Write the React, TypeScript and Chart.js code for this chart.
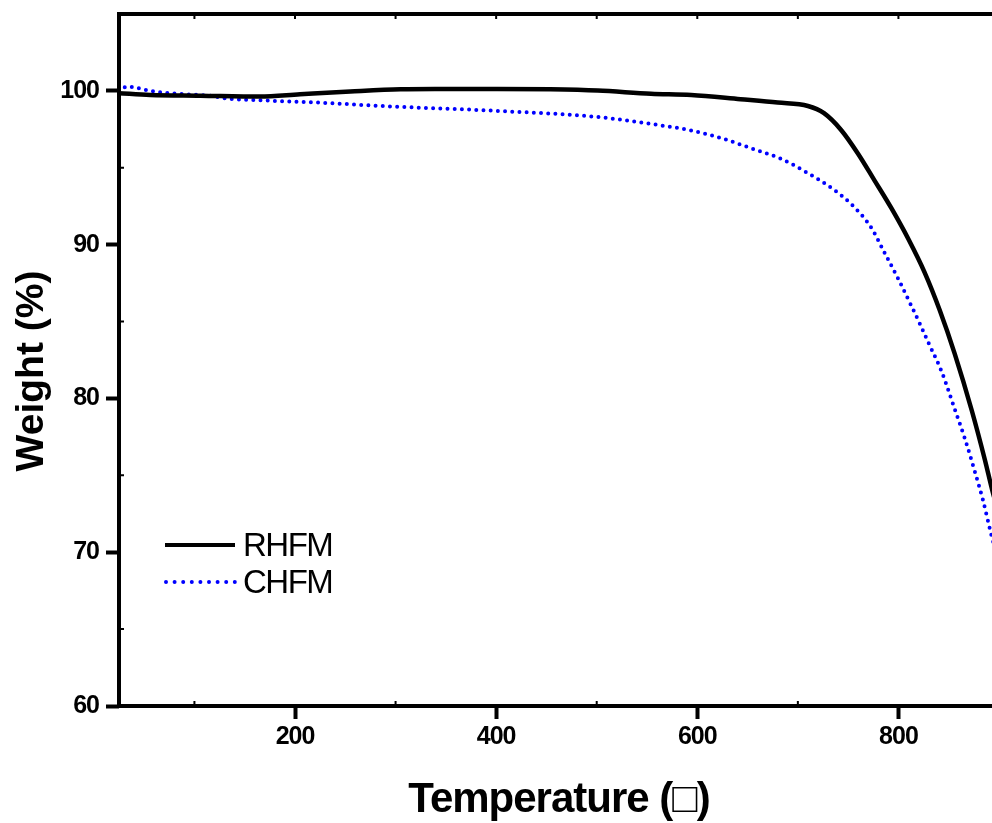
import React, { useEffect, useRef } from "react";
import { Chart, registerables } from "chart.js";

Chart.register(...registerables);

// ---- data ----
const xTickValues = [200, 400, 600, 800];
const yTickValues = [60, 70, 80, 90, 100];
const xMinorValues = [100, 300, 500, 700];
const topMinorValues = [100, 200, 300, 400, 500, 600, 700, 800];
const yMinorValues = [65, 75, 85, 95];

const seriesNames = ["RHFM", "CHFM"];
const xTitle = "Temperature (\u25A1)";
const yTitle = "Weight (%)";

const rhfmTemp = [25, 56, 106, 165, 205, 255, 305, 350, 401, 454, 501, 554, 594, 643, 680, 710, 726, 743, 760, 776, 793, 810, 826, 841, 856, 873, 886, 894, 900];
const rhfmWeight = [99.85, 99.74, 99.69, 99.63, 99.78, 99.96, 100.1, 100.12, 100.13, 100.1, 100.02, 99.82, 99.74, 99.46, 99.24, 99.02, 98.55, 97.46, 95.9, 94.2, 92.37, 90.35, 88.2, 85.75, 82.9, 79.2, 76.0, 73.85, 72.5];

const chfmTemp = [25, 33, 39, 56, 86, 116, 133, 172, 222, 298, 401, 501, 554, 594, 627, 660, 682, 710, 736, 756, 773, 786, 800, 813, 821, 830, 843, 856, 866, 876, 884, 892, 900];
const chfmWeight = [99.95, 100.28, 100.24, 100.0, 99.8, 99.68, 99.5, 99.37, 99.24, 98.98, 98.7, 98.3, 97.85, 97.42, 96.86, 96.12, 95.62, 94.65, 93.56, 92.45, 91.1, 89.5, 87.75, 86.0, 84.9, 83.6, 81.74, 79.3, 77.4, 75.24, 73.4, 71.23, 69.3];

const X_MIN = 25;
const X_MAX = 900;
const Y_MIN = 60;
const Y_MAX = 105;

// ---- layout ----
const W = 1012;
const H = 823;
const AREA = { left: 119, top: 14, right: 999, bottom: 706 };

const SANS = "'Liberation Sans', Arial, 'DejaVu Sans', sans-serif";

const toPoints = (xs: number[], ys: number[]) => xs.map((x, i) => ({ x, y: ys[i] }));

const spacingPlugin = {
  id: "spacing",
  beforeDraw(chart: any) {
    (chart.ctx as any).letterSpacing = "-1px";
  },
};

const decorPlugin = {
  id: "decor",
  afterDatasetsDraw(chart: any) {
    const { ctx, chartArea: a, scales } = chart;
    ctx.save();
    ctx.strokeStyle = "#000";
    ctx.lineWidth = 4;
    ctx.strokeRect(a.left, a.top, a.right - a.left, a.bottom - a.top);

    // minor ticks (inward)
    ctx.lineWidth = 2;
    ctx.beginPath();
    xMinorValues.forEach((v) => {
      const x = scales.x.getPixelForValue(v);
      ctx.moveTo(x, a.bottom);
      ctx.lineTo(x, a.bottom - 5);
    });
    topMinorValues.forEach((v) => {
      const x = scales.x.getPixelForValue(v);
      ctx.moveTo(x, a.top);
      ctx.lineTo(x, a.top + 5);
    });
    yMinorValues.forEach((v) => {
      const y = scales.y.getPixelForValue(v);
      ctx.moveTo(a.left, y);
      ctx.lineTo(a.left + 5, y);
    });
    ctx.stroke();

    // legend
    ctx.lineCap = "butt";
    ctx.strokeStyle = "#000";
    ctx.lineWidth = 4;
    ctx.beginPath();
    ctx.moveTo(165, 545);
    ctx.lineTo(235, 545);
    ctx.stroke();

    ctx.strokeStyle = "#0000ff";
    ctx.lineCap = "round";
    ctx.setLineDash([0, 8.6]);
    ctx.beginPath();
    ctx.moveTo(166, 582);
    ctx.lineTo(235, 582);
    ctx.stroke();
    ctx.setLineDash([]);

    ctx.fillStyle = "#000";
    (ctx as any).letterSpacing = "-1.5px";
    ctx.font = `33px ${SANS}`;
    ctx.textAlign = "left";
    ctx.textBaseline = "alphabetic";
    ctx.fillText(seriesNames[0], 243, 556);
    ctx.fillText(seriesNames[1], 243, 593);

    // axis titles
    (ctx as any).letterSpacing = "-1px";
    ctx.font = `bold 42px ${SANS}`;
    ctx.textAlign = "center";
    ctx.fillText(xTitle, 559, 812);

    ctx.save();
    (ctx as any).letterSpacing = "0px";
    ctx.translate(43, 371);
    ctx.rotate(-Math.PI / 2);
    ctx.font = `bold 39px ${SANS}`;
    ctx.fillText(yTitle, 0, 0);
    ctx.restore();

    ctx.restore();
  },
};

export default function App() {
  const ref = useRef<HTMLCanvasElement | null>(null);

  useEffect(() => {
    document.body.style.overflow = "hidden";
    const canvas = ref.current;
    if (!canvas) return;
    const tickFont = { family: SANS, size: 25, weight: "bold" };
    const chart = new Chart(canvas, {
      type: "line",
      data: {
        datasets: [
          {
            label: seriesNames[0],
            data: toPoints(rhfmTemp, rhfmWeight),
            borderColor: "#000000",
            borderWidth: 4.5,
            pointRadius: 0,
            cubicInterpolationMode: "monotone",
            fill: false,
          },
          {
            label: seriesNames[1],
            data: toPoints(chfmTemp, chfmWeight),
            borderColor: "#0000ff",
            borderWidth: 4,
            borderDash: [0, 7.2],
            borderCapStyle: "round",
            pointRadius: 0,
            cubicInterpolationMode: "monotone",
            fill: false,
          },
        ],
      },
      options: {
        animation: false,
        responsive: false,
        devicePixelRatio: 1,
        layout: { padding: { left: 0, top: AREA.top, right: W - AREA.right, bottom: 0 } },
        plugins: { legend: { display: false }, tooltip: { enabled: false }, title: { display: false } },
        scales: {
          x: {
            type: "linear",
            position: "bottom",
            min: X_MIN,
            max: X_MAX,
            afterBuildTicks: (s: any) => {
              s.ticks = xTickValues.map((v) => ({ value: v }));
            },
            afterFit: (s: any) => {
              s.height = H - AREA.bottom;
              s.paddingLeft = 0;
              s.paddingRight = 0;
            },
            grid: {
              display: true,
              drawOnChartArea: false,
              drawTicks: true,
              tickLength: 13,
              tickWidth: 4,
              tickColor: "#000",
              color: "#000",
            },
            border: { display: false },
            ticks: {
              color: "#000",
              font: tickFont,
              padding: 3,
              maxRotation: 0,
              autoSkip: false,
            },
          },
          y: {
            type: "linear",
            position: "left",
            min: Y_MIN,
            max: Y_MAX,
            afterBuildTicks: (s: any) => {
              s.ticks = yTickValues.map((v) => ({ value: v }));
            },
            afterFit: (s: any) => {
              s.width = AREA.left;
              s.paddingTop = 0;
              s.paddingBottom = 0;
            },
            grid: {
              display: true,
              drawOnChartArea: false,
              drawTicks: true,
              tickLength: 13,
              tickWidth: 4,
              tickColor: "#000",
              color: "#000",
            },
            border: { display: false },
            ticks: {
              color: "#000",
              font: tickFont,
              padding: 7,
              autoSkip: false,
            },
          },
        },
      },
      plugins: [spacingPlugin, decorPlugin],
    } as any);
    return () => chart.destroy();
  }, []);

  return (
    <div style={{ position: "fixed", left: 0, top: 0, width: W, height: H, background: "#fff" }}>
      <canvas ref={ref} width={W} height={H} style={{ width: W, height: H, display: "block" }} />
    </div>
  );
}
